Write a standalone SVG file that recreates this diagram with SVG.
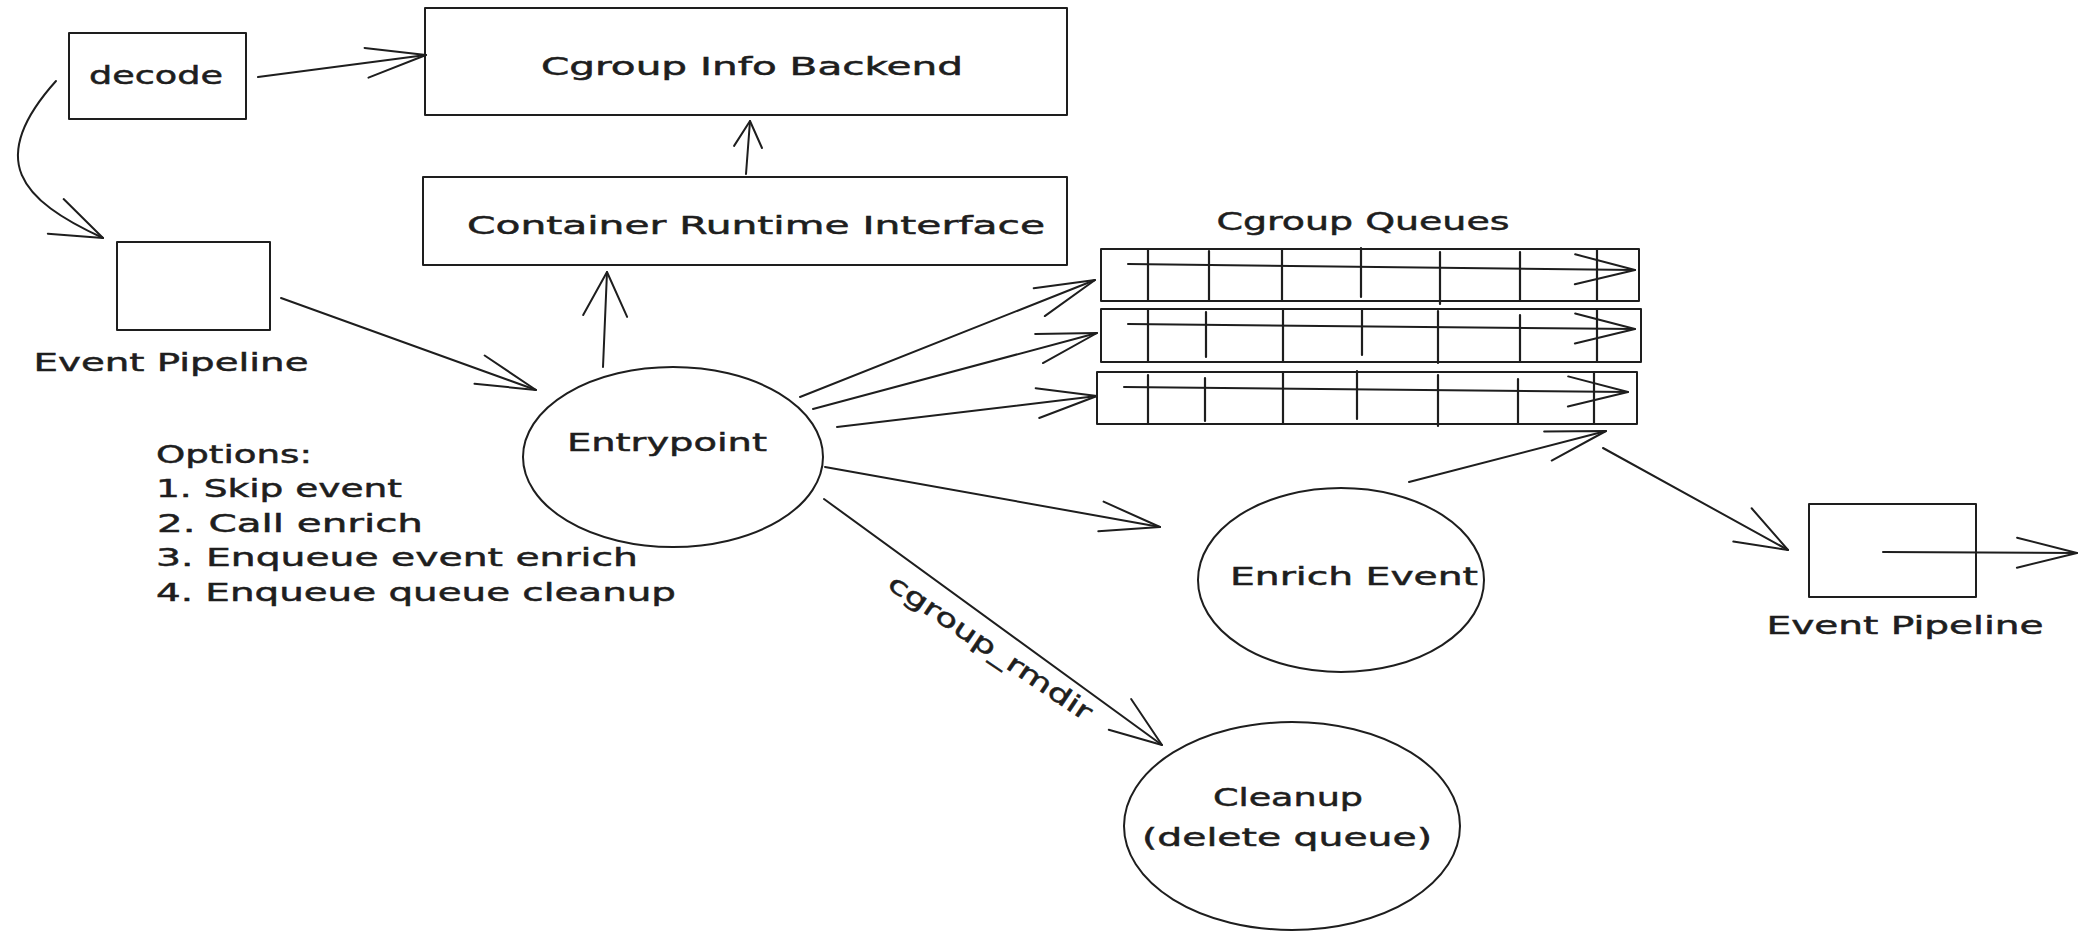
<svg xmlns="http://www.w3.org/2000/svg" width="2085" height="932" viewBox="0 0 2085 932">
<style>
  .n { fill: none; stroke: #1e1e1e; stroke-width: 2; stroke-linejoin: round; }
  .c { fill: none; stroke: #1e1e1e; stroke-width: 2; stroke-linecap: round; }
  .d { fill: none; stroke: #1e1e1e; stroke-width: 2.2; stroke-linecap: round; }
  .t { font-family: "DejaVu Sans", "Liberation Sans", sans-serif; font-size: 25px; fill: #1e1e1e; stroke: #1e1e1e; stroke-width: 0.5; }
  .m { text-anchor: middle; }
</style>
<defs>
  <marker id="ah" markerUnits="userSpaceOnUse" viewBox="-2 -2 64 34" markerWidth="64" markerHeight="34" refX="60" refY="15" orient="auto" overflow="visible">
    <path d="M0,0 L60,15 L0,30" fill="none" stroke="#1e1e1e" stroke-width="2" stroke-linecap="round" stroke-linejoin="round"/>
  </marker>
  <marker id="ahm" markerUnits="userSpaceOnUse" viewBox="-2 -2 56 42" markerWidth="56" markerHeight="42" refX="52" refY="19" orient="auto" overflow="visible">
    <path d="M0,0 L52,19 L0,38" fill="none" stroke="#1e1e1e" stroke-width="2" stroke-linecap="round" stroke-linejoin="round"/>
  </marker>
  <marker id="ahw" markerUnits="userSpaceOnUse" viewBox="-2 -2 48 48" markerWidth="48" markerHeight="48" refX="44" refY="22" orient="auto" overflow="visible">
    <path d="M0,0 L44,22 L0,44" fill="none" stroke="#1e1e1e" stroke-width="2" stroke-linecap="round" stroke-linejoin="round"/>
  </marker>
  <marker id="ahs" markerUnits="userSpaceOnUse" viewBox="-2 -2 30 30" markerWidth="30" markerHeight="30" refX="26" refY="14" orient="auto" overflow="visible">
    <path d="M0,0 L26,14 L0,28" fill="none" stroke="#1e1e1e" stroke-width="2" stroke-linecap="round" stroke-linejoin="round"/>
  </marker>
</defs>
<rect x="0" y="0" width="2085" height="932" fill="#ffffff"/>

<g id="decode">
  <rect class="n" x="69" y="33" width="177" height="86"/>
  <text class="t m" x="156" y="84" textLength="134" lengthAdjust="spacingAndGlyphs">decode</text>
</g>

<g id="cgroup-info-backend">
  <rect class="n" x="425" y="8" width="642" height="107"/>
  <text class="t m" x="752" y="75" textLength="422" lengthAdjust="spacingAndGlyphs">Cgroup Info Backend</text>
</g>

<g id="container-runtime-interface">
  <rect class="n" x="423" y="177" width="644" height="88"/>
  <text class="t m" x="756" y="234" textLength="578" lengthAdjust="spacingAndGlyphs">Container Runtime Interface</text>
</g>

<g id="event-pipeline-in">
  <rect class="n" x="117" y="242" width="153" height="88"/>
  <text class="t m" x="171" y="371" textLength="275" lengthAdjust="spacingAndGlyphs">Event Pipeline</text>
</g>

<g id="entrypoint">
  <ellipse class="n" cx="673" cy="457" rx="150" ry="90"/>
  <text class="t m" x="667" y="451" textLength="200" lengthAdjust="spacingAndGlyphs">Entrypoint</text>
</g>

<g id="options">
  <text class="t" x="156" y="463" textLength="156" lengthAdjust="spacingAndGlyphs">Options:</text>
  <text class="t" x="156" y="497" textLength="246" lengthAdjust="spacingAndGlyphs">1. Skip event</text>
  <text class="t" x="157" y="532" textLength="266" lengthAdjust="spacingAndGlyphs">2. Call enrich</text>
  <text class="t" x="156" y="566" textLength="482" lengthAdjust="spacingAndGlyphs">3. Enqueue event enrich</text>
  <text class="t" x="156" y="601" textLength="520" lengthAdjust="spacingAndGlyphs">4. Enqueue queue cleanup</text>
</g>

<g id="cgroup-queues">
  <text class="t m" x="1363" y="230" textLength="293" lengthAdjust="spacingAndGlyphs">Cgroup Queues</text>
  <g id="queue-1">
    <rect class="n" x="1101" y="249" width="538" height="52"/>
    <path class="d" d="M1148 249 V301 M1209 251 V301 M1282 249 V301 M1361 248 V297 M1440 252 V304 M1520 252 V301 M1597 249 V301"/>
    <line class="c" x1="1128" y1="264" x2="1635" y2="270" marker-end="url(#ah)"/>
  </g>
  <g id="queue-2">
    <rect class="n" x="1101" y="309" width="540" height="53"/>
    <path class="d" d="M1148 309 V362 M1206 312 V357 M1283 309 V361 M1362 309 V355 M1438 311 V363 M1520 315 V362 M1597 309 V362"/>
    <line class="c" x1="1128" y1="324" x2="1635" y2="329" marker-end="url(#ah)"/>
  </g>
  <g id="queue-3">
    <rect class="n" x="1097" y="372" width="540" height="52"/>
    <path class="d" d="M1148 375 V423 M1205 378 V421 M1283 372 V424 M1357 371 V419 M1438 375 V426 M1518 379 V424 M1594 372 V424"/>
    <line class="c" x1="1124" y1="387" x2="1628" y2="392" marker-end="url(#ah)"/>
  </g>
</g>

<g id="enrich-event">
  <ellipse class="n" cx="1341" cy="580" rx="143" ry="92"/>
  <text class="t m" x="1354" y="585" textLength="248" lengthAdjust="spacingAndGlyphs">Enrich Event</text>
</g>

<g id="cleanup">
  <ellipse class="n" cx="1292" cy="826" rx="168" ry="104"/>
  <text class="t m" x="1288" y="806" textLength="150" lengthAdjust="spacingAndGlyphs">Cleanup</text>
  <text class="t m" x="1287" y="846" textLength="290" lengthAdjust="spacingAndGlyphs">(delete queue)</text>
</g>

<g id="event-pipeline-out">
  <rect class="n" x="1809" y="504" width="167" height="93"/>
  <text class="t m" x="1905" y="634" textLength="277" lengthAdjust="spacingAndGlyphs">Event Pipeline</text>
</g>

<g id="connectors">
  <line class="c" x1="258" y1="77" x2="426" y2="55" marker-end="url(#ah)"/>
  <path class="c" d="M56 81 C-15 160 20 200 103 238" marker-end="url(#ahm)"/>
  <line class="c" x1="281" y1="298" x2="536" y2="390" marker-end="url(#ah)"/>
  <line class="c" x1="603" y1="367" x2="607" y2="272" marker-end="url(#ahw)"/>
  <line class="c" x1="746" y1="174" x2="750" y2="121" marker-end="url(#ahs)"/>
  <line class="c" x1="800" y1="397" x2="1095" y2="280" marker-end="url(#ah)"/>
  <line class="c" x1="813" y1="409" x2="1097" y2="333" marker-end="url(#ah)"/>
  <line class="c" x1="837" y1="427" x2="1097" y2="396" marker-end="url(#ah)"/>
  <line class="c" x1="825" y1="467" x2="1160" y2="527" marker-end="url(#ah)"/>
  <line class="c" x1="824" y1="499" x2="1162" y2="745" marker-end="url(#ahm)"/>
  <text class="t m" transform="translate(990,648) rotate(34)" x="0" y="8" textLength="240" lengthAdjust="spacingAndGlyphs">cgroup_rmdir</text>
  <line class="c" x1="1409" y1="482" x2="1606" y2="431" marker-end="url(#ah)"/>
  <line class="c" x1="1603" y1="448" x2="1788" y2="550" marker-end="url(#ahm)"/>
  <line class="c" x1="1883" y1="552" x2="2077" y2="553" marker-end="url(#ah)"/>
</g>
</svg>
